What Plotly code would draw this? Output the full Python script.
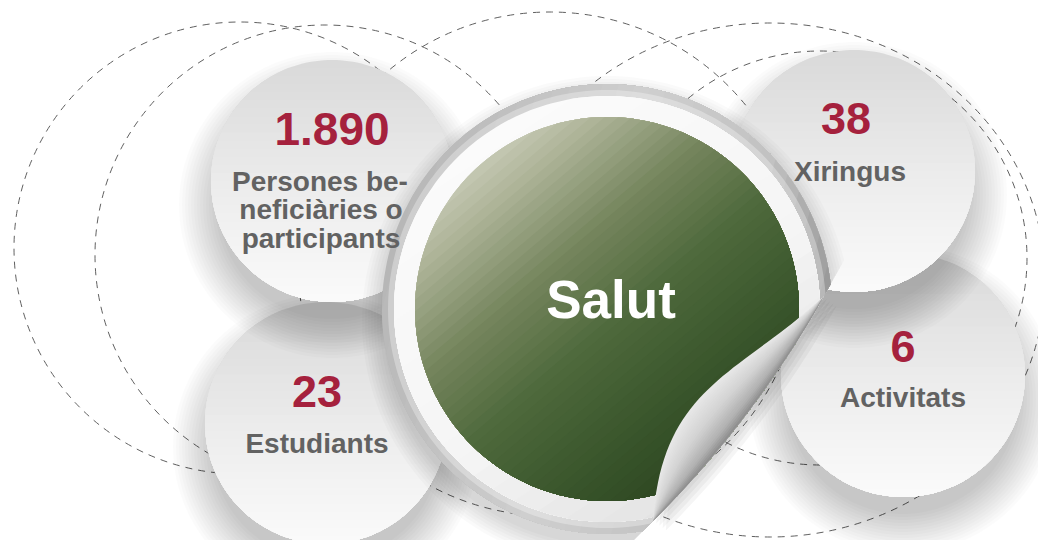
import numpy as np
import plotly.graph_objects as go

# ---------------- data ----------------
values = [1890, 38, 23, 6]
labels = [["Persones be-", "neficiàries o", "participants"],
          ["Xiringus"], ["Estudiants"], ["Activitats"]]
centre_label = "Salut"

# ---------------- layout constants (pixels, y downwards) ----------------
W, H = 1038, 540
bubble_centres = [(332, 181), (854, 171), (326, 423), (903, 375)]
bubble_r = [121, 121, 121, 122]
number_pos = [(332, 133), (846, 123), (317, 396), (903, 351)]
label_pos = [[(320, 184), (321, 212), (321, 241)], [(850, 174)], [(317, 446)], [(903, 400)]]
centre_text_pos = (611, 305)
centre = (607, 309)
ring_r, white_r, green_r = 225, 213, 192
dashed = [(240, 248, 226, 226), (325, 255, 230, 230), (550, 264, 252, 252),
          (820, 258, 207, 207), (770, 280, 275, 257)]

NUM_COLOR = "#a5213d"
LAB_COLOR = "#626262"
FONT = "Liberation Sans, Arial, sans-serif"


# ---------------- geometry helpers ----------------
def hex2rgb(h):
    h = h.lstrip("#")
    return np.array([int(h[i:i + 2], 16) for i in (0, 2, 4)], float)


def interp(stops, s):
    pos = [p for p, _ in stops]
    cols = [hex2rgb(c) for _, c in stops]
    s = min(max(s, pos[0]), pos[-1])
    for i in range(len(pos) - 1):
        if pos[i] <= s <= pos[i + 1]:
            t = (s - pos[i]) / (pos[i + 1] - pos[i] + 1e-12)
            c = cols[i] * (1 - t) + cols[i + 1] * t
            return "rgb(%d,%d,%d)" % tuple(np.round(c))
    c = cols[-1]
    return "rgb(%d,%d,%d)" % tuple(np.round(c))


def circle_poly(cx, cy, r, n=180):
    t = np.linspace(0, 2 * np.pi, n, endpoint=False)
    return np.c_[cx + r * np.cos(t), cy + r * np.sin(t)]


def clip(poly, p, nrm):
    if len(poly) < 3:
        return poly
    p = np.asarray(p, float)
    nrm = np.asarray(nrm, float)
    d = (poly - p) @ nrm
    out = []
    n = len(poly)
    for i in range(n):
        j = (i + 1) % n
        a, b = poly[i], poly[j]
        da, db = d[i], d[j]
        if da >= 0:
            out.append(a)
        if (da >= 0) != (db >= 0):
            t = da / (da - db)
            out.append(a + t * (b - a))
    return np.array(out).reshape(-1, 2)


def path_of(poly):
    pts = ["%.1f,%.1f" % (x, y) for x, y in poly]
    return "M" + " L".join(pts) + " Z"


shapes = []


def add_poly(poly, color):
    if len(poly) < 3:
        return
    shapes.append(dict(type="path", path=path_of(poly), fillcolor=color,
                       line=dict(width=0), layer="below", xref="x", yref="y"))


def gradient(poly, p0, p1, stops, n=30):
    p0 = np.asarray(p0, float)
    p1 = np.asarray(p1, float)
    d = p1 - p0
    for k in range(n):
        s = k / n
        sub = poly if k == 0 else clip(poly, p0 + s * d, d)
        add_poly(sub, interp(stops, (k + 0.5) / n))


def bezier(pts, n=60):
    pts = np.asarray(pts, float)
    t = np.linspace(0, 1, n)[:, None]
    if len(pts) == 3:
        return (1 - t) ** 2 * pts[0] + 2 * (1 - t) * t * pts[1] + t ** 2 * pts[2]
    return ((1 - t) ** 3 * pts[0] + 3 * (1 - t) ** 2 * t * pts[1]
            + 3 * (1 - t) * t ** 2 * pts[2] + t ** 3 * pts[3])


# ---------------- dashed guide circles ----------------
for cx, cy, rx, ry in dashed:
    shapes.append(dict(type="circle", xref="x", yref="y", layer="below",
                       x0=cx - rx, x1=cx + rx, y0=cy - ry, y1=cy + ry,
                       line=dict(color="#606060", width=1, dash="7px,6px"),
                       fillcolor="rgba(0,0,0,0)"))


# ---------------- grey bubbles with soft shadows ----------------
def shadow(cx, cy, r, dy=24, layers=14, alpha=0.014, spread=32, step=3.0, clipfun=None):
    for i in range(layers):
        rr = r + spread - i * step
        poly = circle_poly(cx, cy + dy, rr)
        if clipfun is not None:
            poly = clipfun(poly)
        add_poly(poly, "rgba(0,0,0,%.3f)" % alpha)


bubble_stops = [(0, "#d9d9d9"), (0.55, "#ededed"), (1, "#fbfbfb")]
for idx in (2, 0, 3, 1):
    cx, cy = bubble_centres[idx]
    r = bubble_r[idx]
    shadow(cx, cy, r)
    gradient(circle_poly(cx, cy, r), (cx, cy - r), (cx, cy + r), bubble_stops, 30)

# ---------------- central peeled disk ----------------
T1 = np.array([824.0, 296.0])
T2 = np.array([653.0, 521.0])
edge = bezier([T1, (754, 420), T2], 40)               # folded outer edge
curl = bezier([T1, (740, 375), (662, 385), T2], 40)   # curl line on the disk
cvec = np.array(centre, float)


def keep_side(poly):
    for a, b in zip(edge[:-1], edge[1:]):
        t = b - a
        nrm = np.array([-t[1], t[0]])
        if (cvec - a) @ nrm < 0:
            nrm = -nrm
        poly = clip(poly, a, nrm)
    return poly


# flap shadow onto what lies behind
flap_poly = np.vstack([curl, edge[::-1]])
for off in [16, 12, 8, 4]:
    add_poly(flap_poly + np.array([off * 0.8, off * 0.6]), "rgba(0,0,0,0.04)")

# disk shadow
shadow(centre[0], centre[1], ring_r, dy=12, layers=8, alpha=0.018, spread=20, step=3.0,
       clipfun=keep_side)

ring = keep_side(circle_poly(*centre, ring_r, 240))
gradient(ring, (centre[0] - ring_r, centre[1] - 60), (centre[0] + ring_r, centre[1] + 60),
         [(0, "#b6b6b6"), (0.45, "#cfcfcf"), (0.75, "#c2c2c2"), (1, "#909090")], 30)
add_poly(keep_side(circle_poly(*centre, ring_r - 6, 240)), "rgba(255,255,255,0.3)")
white = keep_side(circle_poly(*centre, white_r, 240))
gradient(white, (centre[0] - 120, centre[1] - 180), (centre[0] + 120, centre[1] + 180),
         [(0, "#fbfbfb"), (0.6, "#f5f5f5"), (1, "#e2e2e2")], 20)
green = keep_side(circle_poly(*centre, green_r, 240))
gradient(green, (centre[0] - 150, centre[1] - 170), (centre[0] + 120, centre[1] + 150),
         [(0, "#d8dacc"), (0.18, "#adb397"), (0.38, "#75855d"), (0.58, "#4e693c"),
          (0.8, "#3a562c"), (1, "#2c4520")], 48)

# flap with gradient towards the folded edge
n_strip = 24
for k in range(n_strip):
    f = k / n_strip
    inner = curl + f * (edge - curl)
    poly = np.vstack([inner, edge[::-1]])
    add_poly(poly, interp([(0, "#e8e8e8"), (0.45, "#d2d2d2"), (0.8, "#b2b2b2"), (1, "#8c8c8c")],
                          (k + 0.5) / n_strip))

# ---------------- texts ----------------
fig = go.Figure()
num_text = [f"{v:,}".replace(",", ".") for v in values]
fig.add_trace(go.Scatter(
    x=[p[0] for p in number_pos], y=[p[1] for p in number_pos],
    mode="text", text=num_text, textposition="middle center",
    textfont=dict(family=FONT, size=[46, 45, 45, 45], color=NUM_COLOR, weight="bold"),
    hoverinfo="skip"))
lx, ly, lt = [], [], []
for lines, poss in zip(labels, label_pos):
    for line, (x, y) in zip(lines, poss):
        lx.append(x)
        ly.append(y)
        lt.append(line)
fig.add_trace(go.Scatter(
    x=lx, y=ly, mode="text", text=lt, textposition="middle center",
    textfont=dict(family=FONT, size=28, color=LAB_COLOR, weight="bold"),
    hoverinfo="skip"))
fig.add_trace(go.Scatter(
    x=[centre_text_pos[0]], y=[centre_text_pos[1]], mode="text", text=[centre_label],
    textposition="middle center",
    textfont=dict(family=FONT, size=53, color="#ffffff", weight="bold"),
    hoverinfo="skip"))

fig.update_layout(
    width=W, height=H, margin=dict(l=0, r=0, t=0, b=0),
    paper_bgcolor="#ffffff", plot_bgcolor="#ffffff",
    showlegend=False, hovermode=False, shapes=shapes,
    xaxis=dict(range=[0, W], visible=False, fixedrange=True),
    yaxis=dict(range=[H, 0], visible=False, fixedrange=True),
)
fig.write_html("out.html", config={"displayModeBar": False, "staticPlot": True},
               post_script="document.body.style.margin='0';document.body.style.overflow='hidden';")
